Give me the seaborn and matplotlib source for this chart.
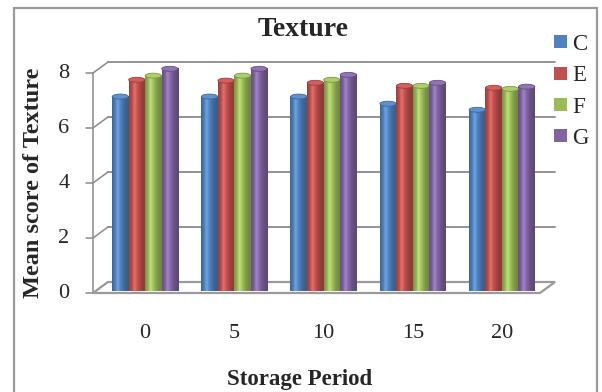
import numpy as np
import pandas as pd
import seaborn as sns
import matplotlib.pyplot as plt
import matplotlib.transforms as mtransforms
from matplotlib.lines import Line2D
from matplotlib.patches import Ellipse, Polygon, Rectangle

# Mean texture scores per storage period (days) for each treatment
periods = ["0", "5", "10", "15", "20"]
treatments = ["C", "E", "F", "G"]
score_C = [7.07, 7.07, 7.07, 6.81, 6.59]
score_E = [7.68, 7.65, 7.57, 7.46, 7.39]
score_F = [7.83, 7.83, 7.68, 7.46, 7.35]
score_G = [8.08, 8.08, 7.86, 7.57, 7.43]
y_ticks = [0, 2, 4, 6, 8]
colors = ["#4F81BD", "#C0504D", "#9BBB59", "#8064A2"]

series = {"C": score_C, "E": score_E, "F": score_F, "G": score_G}
df = pd.DataFrame(
    [(p, t, series[t][i]) for t in treatments for i, p in enumerate(periods)],
    columns=["Storage Period", "Treatment", "Score"],
)

sns.set_theme(style="white")
plt.rcParams["font.family"] = ["Liberation Serif", "DejaVu Serif"]

W, H = 602, 392
PX_PER_UNIT = 27.5
fig = plt.figure(figsize=(W / 100, H / 100), dpi=100)
fig.patch.set_facecolor("white")

# chart frame
fig.add_artist(Rectangle((14 / W, -0.05), 583 / W, 1 - 8 / H + 0.05,
                         transform=fig.transFigure, fill=False,
                         edgecolor="#9a9a9a", lw=1.6, zorder=-2))

ax = fig.add_axes([93 / W, 1 - 291 / H, 447 / W, 229 / H])
ax.set_facecolor("none")

sns.barplot(data=df, x="Storage Period", y="Score", hue="Treatment",
            palette=colors, width=0.74, saturation=1, legend=False,
            ax=ax, zorder=3, edgecolor="none")

XL, XR = -0.583, 4.426
YT = 229 / PX_PER_UNIT
ax.set_xlim(XL, XR)
ax.set_ylim(0, YT)
for s in ax.spines.values():
    s.set_visible(False)
ax.set_xlabel("")
ax.set_ylabel("")
ax.set_yticks(y_ticks)
ax.set_yticklabels([str(v) for v in y_ticks], fontsize=16)
ax.tick_params(axis="y", length=0, pad=17)
ax.tick_params(axis="x", length=0, pad=24, labelsize=16)

# cylinder shading for each bar
t = np.linspace(0, 1, 80)
shade = 0.72 + 0.34 * np.exp(-((t - 0.38) / 0.32) ** 2)
hl = 0.10 * np.exp(-((t - 0.33) / 0.10) ** 2)
cap_h = 5 / PX_PER_UNIT
bars = [p for p in ax.patches if p.get_height() > 0]
for p in bars:
    x, w, h = p.get_x(), p.get_width(), p.get_height()
    base = np.array(p.get_facecolor()[:3])
    img = np.clip(base[None, :] * shade[:, None] + hl[:, None], 0, 1)[None, :, :]
    ax.imshow(img, extent=(x, x + w, 0, h), aspect="auto", zorder=3.5,
              interpolation="bilinear")
    ax.add_patch(Ellipse((x + w / 2, h), w * 0.98, cap_h,
                         facecolor=np.clip(base * 1.05 + 0.04, 0, 1),
                         edgecolor=np.clip(base * 0.8, 0, 1), lw=0.6,
                         zorder=4))
    ax.add_patch(Ellipse((x + w / 2, 0), w * 0.98, cap_h,
                         facecolor=np.clip(base * 0.85, 0, 1),
                         edgecolor="none", zorder=3.4))
    p.set_visible(False)

ax.set_xlim(XL, XR)
ax.set_ylim(0, YT)

# 3-D style walls, drawn in display space from the data transform
fig.canvas.draw()
dx, dy = 15, 9
grid_c = "#8a8a8a"
ident = mtransforms.IdentityTransform()


def px(x, y):
    return ax.transData.transform((x, y))


for v in y_ticks:
    fl, fr = px(XL, v), px(XR, v)
    if v > 0:
        fig.add_artist(Line2D([fl[0] + dx, fr[0] + dx], [fl[1] + dy, fr[1] + dy],
                              transform=ident, color=grid_c, lw=1.3, zorder=-1))
    # left wall diagonal and outward tick
    fig.add_artist(Line2D([fl[0] - 7, fl[0], fl[0] + dx], [fl[1] - 2, fl[1] - 2, fl[1] + dy],
                          transform=ident, color=grid_c, lw=1.1, zorder=-1))

top_l, bot_l = px(XL, 8), px(XL, 0)
fig.add_artist(Line2D([bot_l[0], top_l[0]], [bot_l[1] - 2, top_l[1] - 2],
                      transform=ident, color=grid_c, lw=1.1, zorder=-1))

# floor
b0, b1 = px(XL, 0), px(XR, 0)
floor = np.array([[b0[0], b0[1] - 2], [b1[0], b1[1] - 2],
                  [b1[0] + dx, b1[1] + dy], [b0[0] + dx, b0[1] + dy]])
fig.add_artist(Polygon(floor, closed=True, transform=ident, facecolor="white",
                       edgecolor="#9a9a9a", lw=1.6, zorder=-1))

# titles
fig.text(303 / W, 1 - 36 / H, "Texture", ha="center", va="baseline",
         fontsize=20, fontweight="bold")
fig.text(300 / W, 1 - 385 / H, "Storage Period", ha="center", va="baseline",
         fontsize=16.5, fontweight="bold")
fig.text(34 / W, 1 - 183 / H, "Mean score of Texture", ha="center",
         va="center", rotation=90, fontsize=17.5, fontweight="bold")

# legend
handles = [Rectangle((0, 0), 1, 1, facecolor=c, edgecolor="none") for c in colors]
fig.legend(handles, treatments, loc="upper left",
           bbox_to_anchor=(554 / W, 1 - 34 / H), frameon=False,
           fontsize=16.5, handlelength=0.55, handleheight=0.5,
           handletextpad=0.25, labelspacing=0.45, borderaxespad=0,
           borderpad=0)

fig.savefig("out.png", dpi=100, facecolor="white")
